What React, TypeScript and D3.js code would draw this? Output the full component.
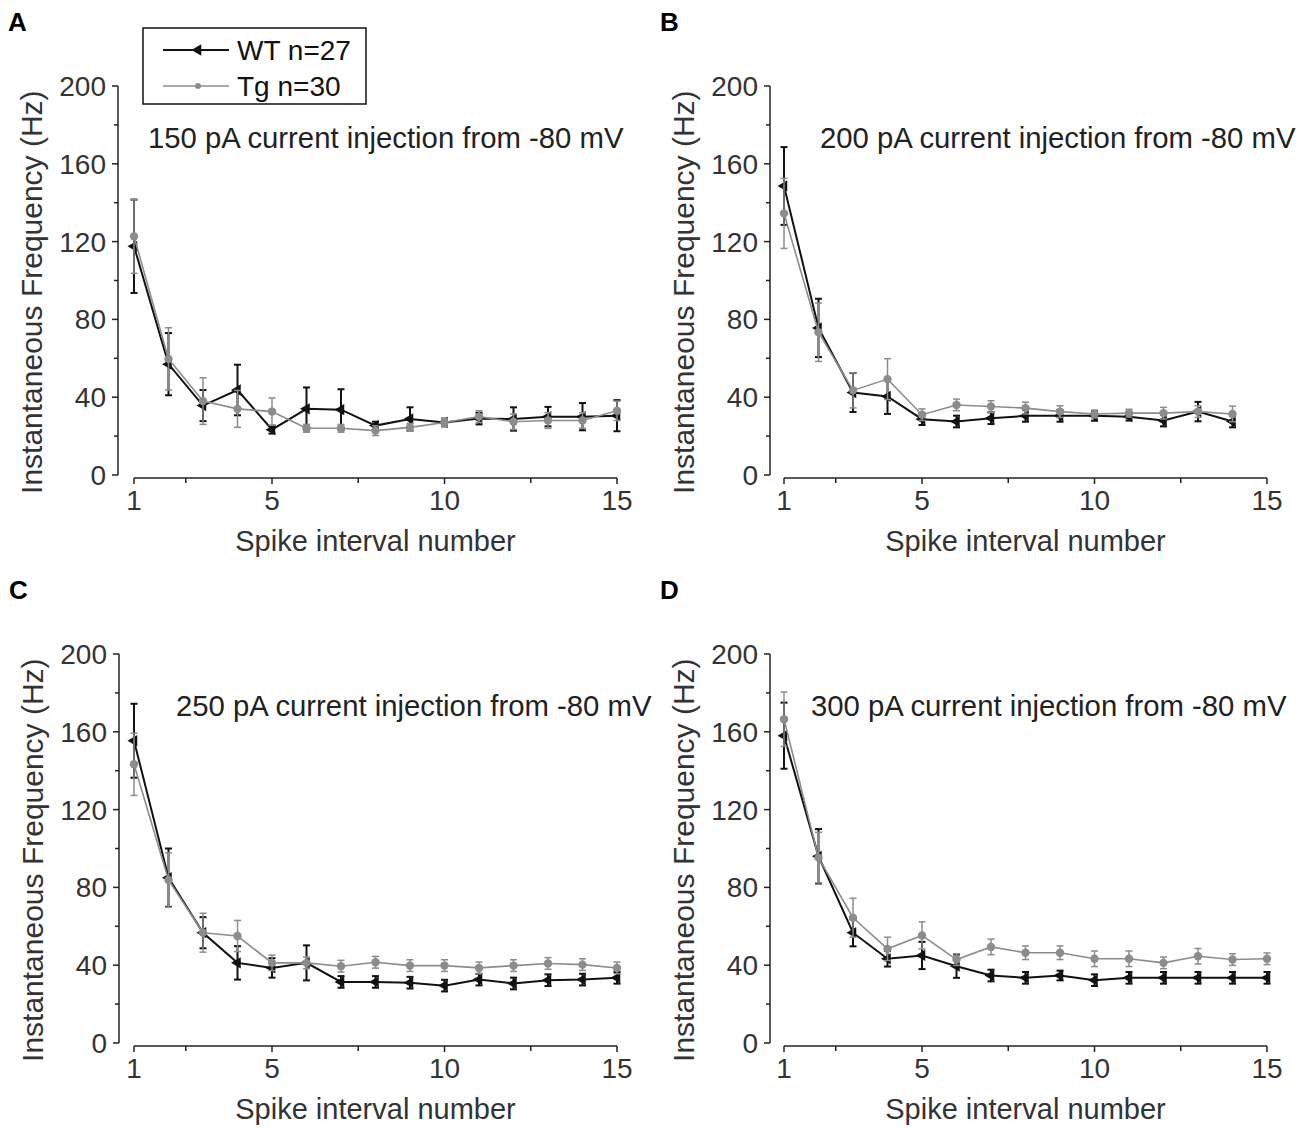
import * as d3 from 'd3';

// spike interval numbers
const intervals15 = [1, 2, 3, 4, 5, 6, 7, 8, 9, 10, 11, 12, 13, 14, 15];
const intervals14 = [1, 2, 3, 4, 5, 6, 7, 8, 9, 10, 11, 12, 13, 14];

const xTicks = [1, 5, 10, 15];
const xMinorTicks = [2.5, 7.5, 12.5];
const yTicks = [0, 40, 80, 120, 160, 200];
const yMinorTicks = [20, 60, 100, 140, 180];

// A: 150 pA
const wtA = [117.6, 57, 35.7, 43.7, 23.3, 34, 33.6, 25.4, 28.8, 27, 29, 28.8, 30, 30, 30.5];
const wtErrA = [24, 16, 8, 13, 2, 11, 10.5, 2, 6, 2, 3, 6, 5, 7, 8];
const tgA = [122.7, 59.7, 38, 34, 32.6, 24, 24, 22.8, 24.5, 27, 30, 27.4, 28, 28, 33];
const tgErrA = [19, 16, 12, 9.5, 7, 2, 2, 2.5, 2, 2, 3, 4, 4, 4, 5];

// B: 200 pA
const wtB = [148.6, 75.6, 42.4, 40.4, 28.7, 27.5, 29.2, 30.4, 30.4, 30.4, 30, 28, 32.6, 27.5];
const wtErrB = [20, 15, 10, 9, 3, 3, 3, 3, 3, 2.5, 2, 3, 5, 3];
const tgB = [134.5, 73.4, 43.5, 49.3, 31, 36, 35.2, 34.4, 32.6, 31.4, 31.8, 31.8, 32.6, 31.4];
const tgErrB = [18, 15, 9, 10.5, 3, 3, 3, 3, 3, 2, 2, 3, 3, 4];

// C: 250 pA
const wtC = [155.4, 85, 56.7, 41.2, 38.6, 41.2, 31.4, 31.4, 31, 29.5, 32.6, 30.6, 32.3, 32.6, 33.5];
const wtErrC = [19, 15, 8, 8.6, 5, 9, 3, 3, 3, 3, 3, 3, 3, 3, 3];
const tgC = [143.3, 83.8, 56.7, 55, 41.2, 41.2, 39.5, 41.5, 39.8, 39.8, 38.6, 39.8, 40.9, 40.3, 38.6];
const tgErrC = [16, 14, 10, 8, 4, 3, 3, 3, 3, 3, 3, 3, 3, 3, 3];

// D: 300 pA
const wtD = [158, 96, 56.7, 43.3, 45, 39.5, 34.7, 33.5, 34.7, 32.3, 33.5, 33.5, 33.5, 33.5, 33.5];
const wtErrD = [17, 14, 7, 4, 7, 6, 3, 3, 2.5, 3, 3, 3, 3, 3, 3];
const tgD = [166.5, 95.3, 64.4, 48.4, 55.3, 42.9, 49.4, 46.4, 46.4, 43.3, 43.3, 41.2, 44.6, 42.9, 43.3];
const tgErrD = [14, 13, 10, 6, 7, 3, 4, 3.5, 3.5, 4, 4, 3, 4, 3, 3];

const FONT = '"Liberation Sans", Arial, sans-serif';
const BLACK = '#111';
const GREY = '#8c8c8c';

interface Series {
  x: number[];
  y: number[];
  err: number[];
}

interface PanelProps {
  letter: string;
  note: string;
  axisX: number; // y axis position
  x1: number; // pixel of interval 1
  y0: number; // pixel of 0 Hz
  noteDx: number;
  wt: Series;
  tg: Series;
  legend?: boolean;
}

const triangle = d3.symbol().type(d3.symbolTriangle).size(55)() ?? '';

function Panel({ letter, note, axisX, x1, y0, noteDx, wt, tg, legend }: PanelProps) {
  const x = d3.scaleLinear().domain([1, 15]).range([x1, x1 + 483]);
  const y = d3.scaleLinear().domain([0, 200]).range([y0, y0 - 389]);
  const line = d3.line<[number, number]>().x(d => x(d[0])).y(d => y(d[1]));
  const xAxisY = y0 + 3;

  const errBars = (s: Series, color: string, w: number) =>
    s.x.map((xi, i) => {
      const cx = x(xi);
      const top = y(s.y[i] + s.err[i]);
      const bot = y(s.y[i] - s.err[i]);
      return (
        <g key={i} stroke={color} strokeWidth={w}>
          <line x1={cx} x2={cx} y1={top} y2={bot} />
          <line x1={cx - 3.5} x2={cx + 3.5} y1={top} y2={top} />
          <line x1={cx - 3.5} x2={cx + 3.5} y1={bot} y2={bot} />
        </g>
      );
    });

  const wtPts = wt.x.map((xi, i) => [xi, wt.y[i]] as [number, number]);
  const tgPts = tg.x.map((xi, i) => [xi, tg.y[i]] as [number, number]);

  return (
    <g fontFamily={FONT}>
      <text x={axisX - 110} y={y(200) - 55} fontSize={26} fontWeight="bold" fill="#000">{letter}</text>

      {/* y axis */}
      <line x1={axisX} x2={axisX} y1={y(0)} y2={y(200)} stroke="#222" strokeWidth={1.5} />
      {yTicks.map(t => (
        <g key={t}>
          <line x1={axisX - 6} x2={axisX} y1={y(t)} y2={y(t)} stroke="#222" strokeWidth={1.5} />
          <text x={axisX - 12} y={y(t)} dy="0.36em" textAnchor="end" fontSize={28} fill="#333">{t}</text>
        </g>
      ))}
      {yMinorTicks.map(t => (
        <line key={t} x1={axisX - 4} x2={axisX} y1={y(t)} y2={y(t)} stroke="#222" strokeWidth={1.5} />
      ))}
      <text
        transform={`translate(${axisX - 87},${y(94)}) rotate(-90)`}
        textAnchor="middle"
        dy="0.36em"
        fontSize={30}
        fill="#333"
      >
        Instantaneous Frequency (Hz)
      </text>

      {/* x axis */}
      <line x1={x(1)} x2={x(15)} y1={xAxisY} y2={xAxisY} stroke="#222" strokeWidth={1.5} />
      {xTicks.map(t => (
        <g key={t}>
          <line x1={x(t)} x2={x(t)} y1={xAxisY} y2={xAxisY + 6} stroke="#222" strokeWidth={1.5} />
          <text x={x(t)} y={xAxisY + 32} textAnchor="middle" fontSize={28} fill="#333">{t}</text>
        </g>
      ))}
      {xMinorTicks.map(t => (
        <line key={t} x1={x(t)} x2={x(t)} y1={xAxisY} y2={xAxisY + 5} stroke="#222" strokeWidth={1.5} />
      ))}
      <text x={x(8)} y={xAxisY + 73} textAnchor="middle" fontSize={29} fill="#333">Spike interval number</text>

      <text x={axisX + noteDx} y={y(200) + 51} dy="0.36em" fontSize={29.3} fill="#222">{note}</text>

      {/* WT */}
      {errBars(wt, BLACK, 2)}
      <path d={line(wtPts) ?? ''} fill="none" stroke={BLACK} strokeWidth={2} />
      {wtPts.map((p, i) => (
        <path key={i} d={triangle} transform={`translate(${x(p[0])},${y(p[1])}) rotate(-90)`} fill={BLACK} />
      ))}

      {/* Tg */}
      {errBars(tg, GREY, 1.5)}
      <path d={line(tgPts) ?? ''} fill="none" stroke={GREY} strokeWidth={1.6} />
      {tgPts.map((p, i) => (
        <circle key={i} cx={x(p[0])} cy={y(p[1])} r={4.2} fill={GREY} />
      ))}

      {legend && (
        <g>
          <rect x={axisX + 25} y={28} width={223} height={76} fill="#fff" stroke="#111" strokeWidth={1.5} />
          <line x1={axisX + 45} x2={axisX + 111} y1={50} y2={50} stroke={BLACK} strokeWidth={2} />
          <path d={triangle} transform={`translate(${axisX + 80},50) rotate(-90)`} fill={BLACK} />
          <text x={axisX + 119} y={50} dy="0.36em" fontSize={28} fill="#111">WT n=27</text>
          <line x1={axisX + 45} x2={axisX + 111} y1={86} y2={86} stroke={GREY} strokeWidth={1.6} />
          <circle cx={axisX + 80} cy={86} r={3} fill={GREY} />
          <text x={axisX + 119} y={86} dy="0.36em" fontSize={28} fill="#111">Tg n=30</text>
        </g>
      )}
    </g>
  );
}

export default function App() {
  return (
    <div style={{ position: 'absolute', left: 0, top: 0 }}>
      <svg width={1300} height={1129} viewBox="0 0 1300 1129" style={{ display: 'block', background: '#fff' }}>
        <Panel
          letter="A"
          note="150 pA current injection from -80 mV"
          axisX={118}
          x1={134}
          y0={475}
          noteDx={30}
          wt={{ x: intervals15, y: wtA, err: wtErrA }}
          tg={{ x: intervals15, y: tgA, err: tgErrA }}
          legend
        />
        <Panel
          letter="B"
          note="200 pA current injection from -80 mV"
          axisX={770}
          x1={784}
          y0={475}
          noteDx={50}
          wt={{ x: intervals14, y: wtB, err: wtErrB }}
          tg={{ x: intervals14, y: tgB, err: tgErrB }}
        />
        <Panel
          letter="C"
          note="250 pA current injection from -80 mV"
          axisX={119}
          x1={134}
          y0={1043}
          noteDx={57}
          wt={{ x: intervals15, y: wtC, err: wtErrC }}
          tg={{ x: intervals15, y: tgC, err: tgErrC }}
        />
        <Panel
          letter="D"
          note="300 pA current injection from -80 mV"
          axisX={770}
          x1={784}
          y0={1043}
          noteDx={41}
          wt={{ x: intervals15, y: wtD, err: wtErrD }}
          tg={{ x: intervals15, y: tgD, err: tgErrD }}
        />
      </svg>
    </div>
  );
}
